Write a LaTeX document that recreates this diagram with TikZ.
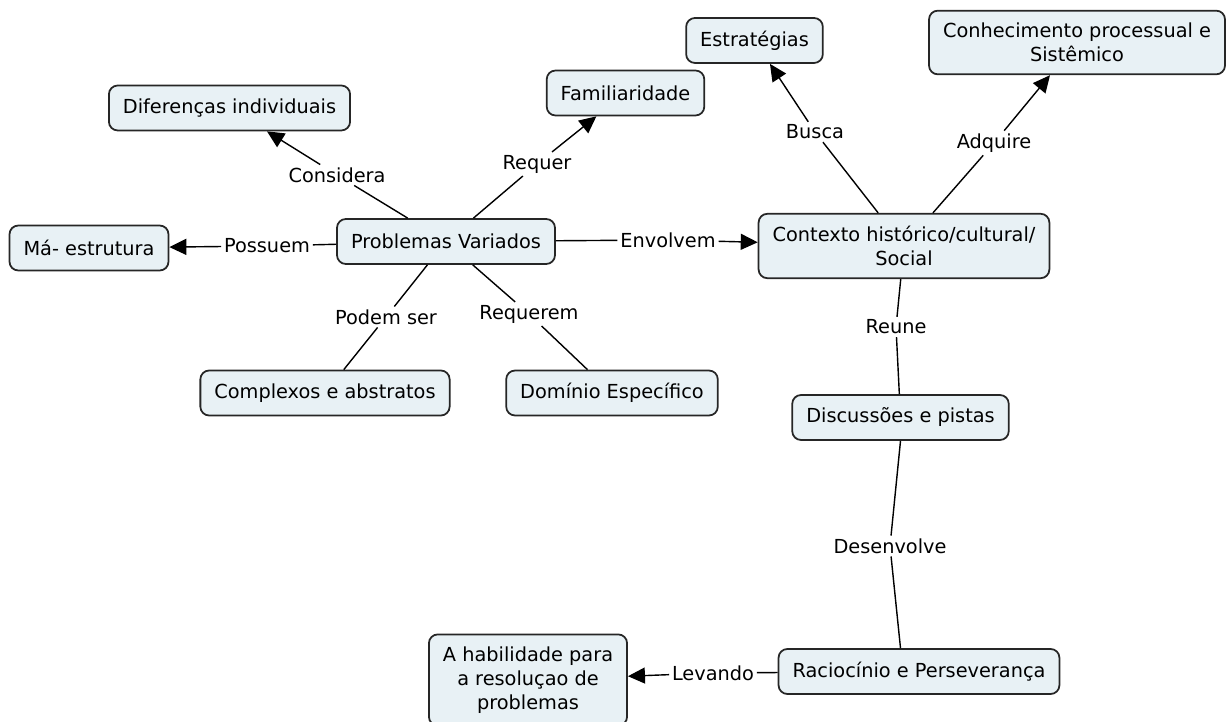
\documentclass[tikz,border=0pt]{standalone}
\usepackage{fontspec}
\setmainfont{DejaVu Sans}
\usepackage{tikz}
\usetikzlibrary{arrows.meta}
\definecolor{conceptfill}{RGB}{232,241,245}

\tikzset{
  concept/.style={draw=black!85, fill=conceptfill, rounded corners=5pt, line width=1pt,
                  inner xsep=0.28cm, inner ysep=0.25cm, minimum height=0.9cm, align=center,
                  font=\fontsize{11}{13.5}\selectfont},
  linking/.style={fill=white, inner sep=1.5pt, font=\fontsize{11}{13.5}\selectfont},
  rel/.style={line width=0.8pt},
  relarrow/.style={rel, -{Triangle[length=0.34cm, width=0.32cm]}}
}

\begin{document}
\begin{tikzpicture}[x=0.02cm, y=-0.02cm]
         \useasboundingbox (0,0) rectangle (1227,722);

         \node[concept] (Dif)  at (229.5,108) {Diferenças individuais};
         \node[concept] (Fam)  at (625.5,93)  {Familiaridade};
         \node[concept] (Estr) at (754.5,40.5) {Estratégias};
         \node[concept] (Conh) at (1077,42.5) {Conhecimento processual e\\Sistêmico};
         \node[concept] (Ma)   at (89,248)    {Má- estrutura};
         \node[concept] (PV)   at (446,241.5) {Problemas Variados};
         \node[concept] (Ctx)  at (904,246)   {Contexto histórico/cultural/\\Social};
         \node[concept] (Comp) at (325,393)   {Complexos e abstratos};
         \node[concept] (Dom)  at (612,393)   {Domínio Específico};
         \node[concept] (Disc) at (900.5,417.5) {Discussões e pistas};
         \node[concept] (Rac)  at (919,671.5) {Raciocínio e Perseverança};
         \node[concept] (Hab)  at (528,680)   {A habilidade para\\a resoluçao de\\problemas};

         \node[linking] (lConsidera)  at (337,175) {Considera};
         \node[linking] (lRequer)     at (537,164) {Requer};
         \node[linking] (lPossuem)    at (267,246) {Possuem};
         \node[linking] (lEnvolvem)   at (668,240) {Envolvem};
         \node[linking] (lPodem)      at (386,317) {Podem ser};
         \node[linking] (lRequerem)   at (529,314) {Requerem};
         \node[linking] (lBusca)      at (815,132) {Busca};
         \node[linking] (lAdquire)    at (994,143) {Adquire};
         \node[linking] (lReune)      at (896,327) {Reune};
         \node[linking] (lDesenvolve) at (890,546) {Desenvolve};
         \node[linking] (lLevando)    at (713,673) {Levando};

         \draw[rel] (PV) -- (lConsidera);
         \draw[relarrow] (lConsidera) -- (Dif);
         \draw[rel] (PV) -- (lRequer);
         \draw[relarrow] (lRequer) -- (Fam);
         \draw[rel] (PV) -- (lPossuem);
         \draw[relarrow] (lPossuem) -- (Ma);
         \draw[rel] (PV) -- (lEnvolvem);
         \draw[relarrow] (lEnvolvem) -- (Ctx);
         \draw[rel] (PV) -- (lPodem) -- (Comp);
         \draw[rel] (PV) -- (lRequerem) -- (Dom);
         \draw[rel] (Ctx) -- (lBusca);
         \draw[relarrow] (lBusca) -- (Estr);
         \draw[rel] (Ctx) -- (lAdquire);
         \draw[relarrow] (lAdquire) -- (Conh);
         \draw[rel] (Ctx) -- (lReune) -- (Disc);
         \draw[rel] (Disc.south) -- (lDesenvolve) -- (Rac.north -| Disc.south);
         \draw[rel] (Rac) -- (lLevando);
         \draw[relarrow] (lLevando) -- (Hab);
      \end{tikzpicture}
\end{document}
